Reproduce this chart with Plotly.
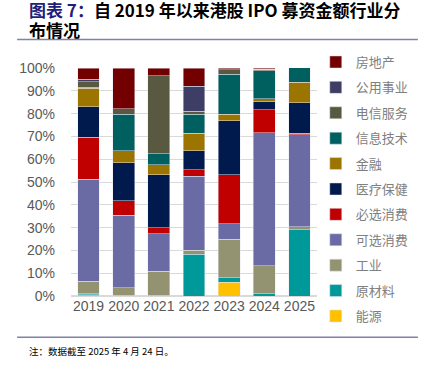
import plotly.graph_objects as go

years = ["2019", "2020", "2021", "2022", "2023", "2024", "2025"]

# bottom to top stacking order
energy      = [0.5, 0.0, 0.0, 0.0, 6.1, 0.0, 0.0]   # 能源
materials   = [0.5, 0.3, 0.3, 18.3, 1.8, 1.0, 29.1] # 原材料
industrial  = [5.4, 3.4, 10.5, 1.7, 17.0, 12.3, 1.2] # 工业
discretion  = [44.8, 31.7, 16.6, 32.6, 6.9, 58.4, 40.5] # 可选消费
staples     = [18.5, 6.3, 2.6, 2.8, 21.4, 10.1, 0.5]  # 必选消费
healthcare  = [13.2, 16.8, 23.2, 8.4, 23.6, 3.7, 13.4] # 医疗保健
financials  = [8.3, 5.3, 4.4, 7.6, 3.0, 1.1, 9.0]     # 金融
infotech    = [0.3, 16.0, 4.7, 8.4, 17.4, 12.1, 6.4]  # 信息技术
telecom     = [2.5, 2.4, 34.2, 1.2, 2.0, 0.7, 0.0]    # 电信服务
utilities   = [1.0, 0.0, 0.0, 11.0, 0.1, 0.0, 0.0]    # 公用事业
realestate  = [5.0, 17.8, 3.5, 8.0, 0.6, 0.6, 0.0]    # 房地产

series = [
    ("能源", energy, "#FFC000"),
    ("原材料", materials, "#009999"),
    ("工业", industrial, "#939372"),
    ("可选消费", discretion, "#6A6AA4"),
    ("必选消费", staples, "#C00000"),
    ("医疗保健", healthcare, "#001A4D"),
    ("金融", financials, "#9C7500"),
    ("信息技术", infotech, "#005F5F"),
    ("电信服务", telecom, "#595942"),
    ("公用事业", utilities, "#3D3D66"),
    ("房地产", realestate, "#730000"),
]

fig = go.Figure()
n = len(series)
for i, (name, vals, color) in enumerate(series):
    fig.add_trace(go.Bar(
        x=years, y=vals, name=name, legendgroup=name, legendrank=n - i,
        marker=dict(color=color, line=dict(color="rgba(230,230,240,0.8)", width=0.6)),
    ))

fig.update_layout(
    width=428, height=365,
    barmode="stack", bargap=0.38,
    plot_bgcolor="white", paper_bgcolor="white",
    margin=dict(l=71, r=111, t=68, b=69, autoexpand=False),
    showlegend=True,
    legend=dict(
        x=0.995, xanchor="left", y=1.092, yanchor="top",
        traceorder="grouped", tracegroupgap=5.5,
        font=dict(family="Noto Sans CJK SC", size=13, color="#808080"),
        itemwidth=30, bgcolor="rgba(0,0,0,0)", maxheight=1,
    ),
    font=dict(family="Noto Sans CJK SC"),
)
fig.update_xaxes(
    showgrid=False, showline=False, ticks="",
    tickfont=dict(family="Liberation Sans", size=14, color="#595959"),
)
fig.update_yaxes(
    range=[0, 100], dtick=10, ticksuffix="%",
    showgrid=True, gridcolor="#D9D9D9", gridwidth=1,
    zeroline=True, zerolinecolor="#D9D9D9",
    tickfont=dict(family="Liberation Sans", size=14, color="#595959"),
    ticks="", ticklabelstandoff=15,
)

fig.add_annotation(
    xref="paper", yref="paper", x=-0.179, y=1.255, xanchor="left", yanchor="middle",
    text="<b><span style='color:#1F1F7A'>图表 7：</span>自 2019 年以来港股 IPO 募资金额行业分</b>",
    showarrow=False, align="left",
    font=dict(family="Noto Sans CJK SC", size=17, color="#000000"),
)
fig.add_annotation(
    xref="paper", yref="paper", x=-0.179, y=1.171, xanchor="left", yanchor="middle",
    text="<b>布情况</b>",
    showarrow=False, align="left",
    font=dict(family="Noto Sans CJK SC", size=17, color="#000000"),
)
fig.add_annotation(
    xref="paper", yref="paper", x=-0.179, y=-0.241, xanchor="left", yanchor="middle",
    text="注：数据截至 2025 年 4 月 24 日。",
    showarrow=False, font=dict(family="Noto Sans CJK SC", size=9.5, color="#000000"),
)
fig.add_shape(type="line", xref="paper", yref="paper",
              x0=-0.219, x1=1.41, y0=1.125, y1=1.125,
              line=dict(color="#8080AA", width=1.5))
fig.add_shape(type="line", xref="paper", yref="paper",
              x0=-0.219, x1=1.41, y0=-0.181, y1=-0.181,
              line=dict(color="#8080AA", width=1.5))

fig.write_html("out.html", config={"displayModeBar": False},
               post_script="document.body.style.margin='0';")
